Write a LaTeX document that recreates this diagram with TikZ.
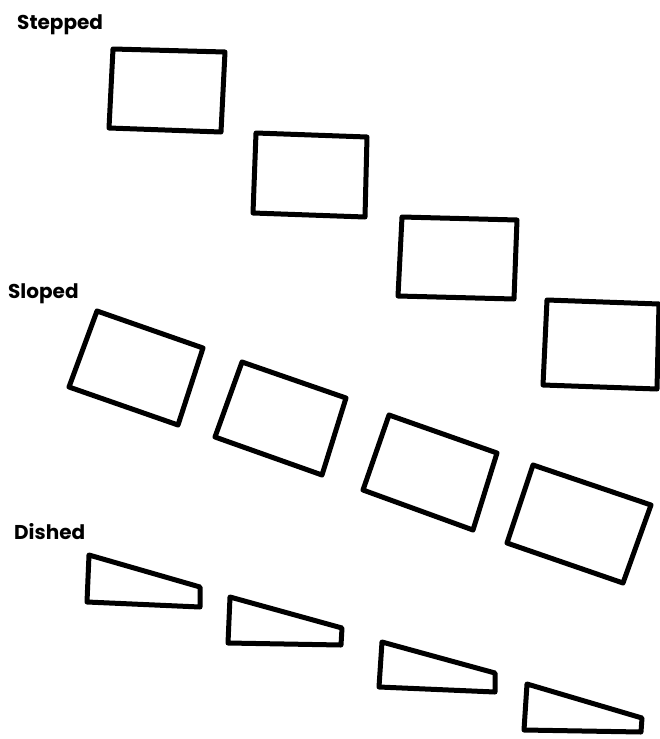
\documentclass[tikz,border=0pt]{standalone}
\usepackage{fontspec}
\setmainfont{Poppins}
\begin{document}
\begin{tikzpicture}[x=1pt,y=-1pt,
  shp/.style={draw=black,line width=5pt,line join=round},
  lbl/.style={anchor=base west,inner sep=0pt,font=\fontsize{20}{22}\selectfont\bfseries}]
\useasboundingbox (0,0) rectangle (660,739);
% labels
\node[lbl] (lstep) at (17,29) {Stepped};
\node[lbl] (lslope) at (8,298) {Sloped};
\node[lbl] (ldish) at (14,539) {Dished};
% stepped
\draw[shp] (113,49) -- (225,52) -- (221,132) -- (109,128) -- cycle;
\draw[shp] (256,133) -- (367,137) -- (365,217) -- (253,213) -- cycle;
\draw[shp] (402,217) -- (517,220) -- (514,299) -- (398,296) -- cycle;
\draw[shp] (547,300) -- (659,304) -- (657,389) -- (543,385) -- cycle;
% sloped
\draw[shp] (97,311) -- (203,348) -- (178,425) -- (69,387) -- cycle;
\draw[shp] (242,362) -- (346,398) -- (322,475) -- (215,437) -- cycle;
\draw[shp] (389,415) -- (497,453) -- (473,530) -- (363,490) -- cycle;
\draw[shp] (533,465) -- (651,505) -- (623,583) -- (507,543) -- cycle;
% dished
\draw[shp] (89,555) -- (200,587) -- (200,607) -- (87,602) -- cycle;
\draw[shp] (230,597) -- (342,628) -- (341,645) -- (228,643) -- cycle;
\draw[shp] (382,642) -- (495,673) -- (495,692) -- (379,687) -- cycle;
\draw[shp] (527,684) -- (642,718) -- (641,732) -- (524,730) -- cycle;
\end{tikzpicture}
\end{document}
